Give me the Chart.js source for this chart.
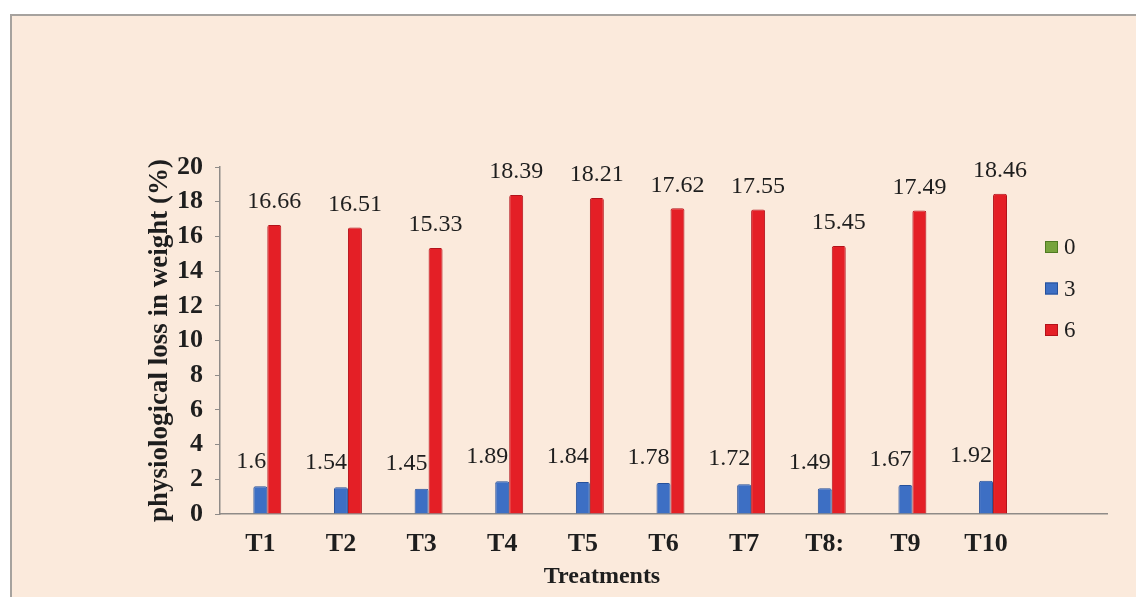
<!DOCTYPE html>
<html>
<head>
<meta charset="utf-8">
<title>Physiological loss in weight</title>
<script src="https://cdn.jsdelivr.net/npm/chart.js@4.4.1/dist/chart.umd.min.js"></script>
<style>
  html, body { margin: 0; padding: 0; background: #ffffff; }
  #wrap { width: 1136px; height: 597px; position: relative; }
</style>
</head>
<body>
<div id="wrap"><canvas id="chart" width="1136" height="597"></canvas></div>
<script>
// Treatments (the last slot is an empty category at the end of the axis)
const categories = ['T1', 'T2', 'T3', 'T4', 'T5', 'T6', 'T7', 'T8:', 'T9', 'T10', ''];
// Storage days shown in the legend
const seriesNames = ['0', '3', '6'];
// Physiological loss in weight (%) per storage day
const day0 = [0, 0, 0, 0, 0, 0, 0, 0, 0, 0, null];
const day3 = [1.6, 1.54, 1.45, 1.89, 1.84, 1.78, 1.72, 1.49, 1.67, 1.92, null];
const day6 = [16.66, 16.51, 15.33, 18.39, 18.21, 17.62, 17.55, 15.45, 17.49, 18.46, null];
// Y axis range
const yMin = 0, yMax = 20, yStep = 2;

const SERIF = '"Liberation Serif", "Times New Roman", serif';
const PANEL = '#fbeadc';

// Peach panel with a grey frame on its top and left sides
const panelBackground = {
  id: 'panelBackground',
  beforeDraw(chart) {
    const ctx = chart.ctx;
    ctx.save();
    ctx.fillStyle = '#ffffff';
    ctx.fillRect(0, 0, chart.width, chart.height);
    ctx.fillStyle = PANEL;
    ctx.fillRect(11, 15, chart.width - 11, chart.height - 15);
    ctx.strokeStyle = '#a6a29e';
    ctx.lineWidth = 2;
    ctx.beginPath();
    ctx.moveTo(11, chart.height);
    ctx.lineTo(11, 15);
    ctx.lineTo(chart.width, 15);
    ctx.stroke();
    ctx.restore();
  }
};

// Value labels: day-3 labels sit up and to the left of their bar,
// day-6 labels are centred above theirs
const valueLabels = {
  id: 'valueLabels',
  afterDatasetsDraw(chart) {
    const ctx = chart.ctx;
    ctx.save();
    ctx.font = '24px ' + SERIF;
    ctx.fillStyle = '#1e1e1e';
    ctx.textBaseline = 'middle';
    const place = {
      1: { dx: 6, dy: -25, align: 'right' },
      2: { dx: 0, dy: -23, align: 'center' }
    };
    Object.keys(place).forEach(k => {
      const i = Number(k);
      const p = place[i];
      const meta = chart.getDatasetMeta(i);
      const vals = chart.data.datasets[i].data;
      ctx.textAlign = p.align;
      meta.data.forEach((bar, j) => {
        const v = vals[j];
        if (v === null || v === undefined) return;
        ctx.fillText(String(v), bar.x + p.dx, bar.y + p.dy);
      });
    });
    ctx.restore();
  }
};

// Legend column to the right of the bars
const sideLegend = {
  id: 'sideLegend',
  afterDraw(chart) {
    const ctx = chart.ctx;
    ctx.save();
    ctx.font = '23px ' + SERIF;
    ctx.textBaseline = 'middle';
    ctx.textAlign = 'left';
    chart.data.datasets.forEach((ds, i) => {
      const y = 247 + i * 41.5;
      const x = 1045;
      ctx.fillStyle = ds.backgroundColor;
      ctx.fillRect(x, y - 6, 13, 12);
      ctx.strokeStyle = ds.borderColor;
      ctx.lineWidth = 1;
      ctx.strokeRect(x + 0.5, y - 5.5, 12, 11);
      ctx.fillStyle = '#1e1e1e';
      ctx.fillText(ds.label, 1064, y + 1);
    });
    ctx.restore();
  }
};

const ctx = document.getElementById('chart').getContext('2d');
new Chart(ctx, {
  type: 'bar',
  data: {
    labels: categories,
    datasets: [
      { label: seriesNames[0], data: day0, backgroundColor: '#77a33c', borderColor: '#4f7a22', borderWidth: 1 },
      { label: seriesNames[1], data: day3, backgroundColor: '#3d6fc4', borderColor: '#26509a', borderWidth: 1 },
      { label: seriesNames[2], data: day6, backgroundColor: '#e41f26', borderColor: '#b3121a', borderWidth: 1 }
    ]
  },
  options: {
    responsive: false,
    animation: false,
    events: [],
    datasets: {
      bar: {
        categoryPercentage: 0.52,
        barPercentage: 1.0,
        borderSkipped: 'bottom',
        borderRadius: { topLeft: 2, topRight: 2, bottomLeft: 0, bottomRight: 0 }
      }
    },
    layout: { padding: { left: 97, right: 29, top: 167, bottom: 0 } },
    plugins: {
      legend: { display: false },
      tooltip: { enabled: false },
      title: {
        display: true,
        position: 'bottom',
        text: 'Treatments',
        color: '#1e1e1e',
        font: { family: SERIF, size: 24, weight: 'bold' },
        padding: { top: 4, bottom: 6 }
      }
    },
    scales: {
      x: {
        grid: { display: false, drawTicks: false },
        border: { display: true, color: '#8f8b88', width: 1.5 },
        ticks: {
          color: '#1e1e1e',
          font: { family: SERIF, size: 26, weight: 'bold' },
          padding: 15,
          maxRotation: 0,
          autoSkip: false
        },
        afterFit(scale) { scale.height = 44.2; }
      },
      y: {
        min: yMin,
        max: yMax,
        ticks: {
          stepSize: yStep,
          color: '#1e1e1e',
          font: { family: SERIF, size: 26, weight: 'bold' },
          padding: 12
        },
        grid: { drawOnChartArea: false, drawTicks: true, tickLength: 5, color: '#8f8b88' },
        border: { display: true, color: '#8f8b88', width: 1.5 },
        title: {
          display: true,
          text: 'physiological loss in weight (%)',
          color: '#1e1e1e',
          font: { family: SERIF, size: 27, weight: 'bold' },
          padding: { top: 47, bottom: 0 }
        },
        afterFit(scale) { scale.width = 123; }
      }
    }
  },
  plugins: [panelBackground, valueLabels, sideLegend]
});
</script>
</body>
</html>
